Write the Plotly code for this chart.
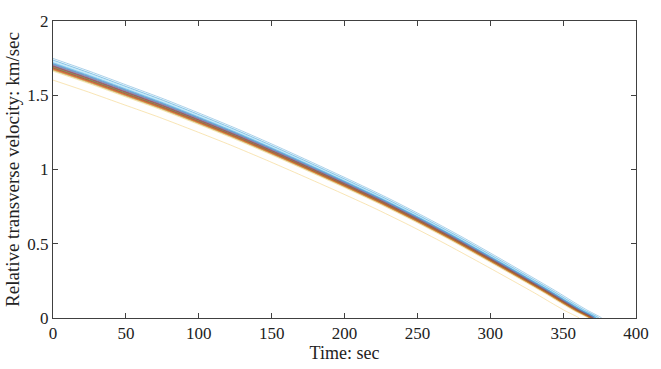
import plotly.graph_objects as go

# Nominal trajectory (time in sec, velocity in km/sec)
time_nominal = [0, 25, 50, 75, 100, 125, 150, 175, 200, 225, 250, 275, 300, 325, 340, 350, 360, 368, 370]
vel_nominal = [1.690, 1.605, 1.515, 1.425, 1.328, 1.228, 1.122, 1.012, 0.900, 0.785, 0.662, 0.532, 0.395, 0.255, 0.170, 0.110, 0.052, 0.012, 0.0]
nominal_v0 = 1.690
nominal_tf = 370.0

# Per-run initial velocity and zero-crossing time
run_v0 = [1.705, 1.688, 1.602, 1.676, 1.694, 1.738, 1.681,
          1.719, 1.671, 1.674, 1.699, 1.685, 1.722, 1.692,
          1.748, 1.679, 1.688, 1.710, 1.668, 1.712, 1.700,
          1.690, 1.695, 1.662, 1.683, 1.703, 1.716, 1.677,
          1.736, 1.682, 1.672, 1.707, 1.689, 1.729, 1.696,
          1.713, 1.674, 1.680, 1.698, 1.687, 1.704, 1.684]
run_tf = [371.5, 369.8, 361.0, 368.5, 370.5, 375.0, 369.0,
          373.0, 368.0, 368.5, 371.0, 369.5, 373.0, 370.0,
          376.5, 369.0, 370.0, 372.0, 368.0, 372.0, 371.0,
          370.0, 370.5, 367.0, 369.5, 371.5, 372.5, 369.0,
          374.5, 369.0, 368.5, 371.5, 370.0, 374.0, 370.5,
          372.5, 368.5, 369.0, 371.0, 369.5, 371.5, 369.5]

colors = ["#0072BD", "#D95319", "#EDB120", "#7E2F8E", "#77AC30", "#4DBEEE", "#A2142F"]

x_ticks = [0, 50, 100, 150, 200, 250, 300, 350, 400]
y_ticks = [0, 0.5, 1, 1.5, 2]
y_tick_labels = ["0", "0.5", "1", "1.5", "2"]

serif = "Liberation Serif, Times New Roman, serif"

fig = go.Figure()
for i, (v0, tf) in enumerate(zip(run_v0, run_tf)):
    xs = [t * tf / nominal_tf for t in time_nominal]
    ys = [v * v0 / nominal_v0 for v in vel_nominal]
    fig.add_trace(go.Scatter(
        x=xs, y=ys, mode="lines",
        line=dict(color=colors[i % len(colors)], width=0.6, shape="spline", smoothing=0.6),
        opacity=0.55, showlegend=False, hoverinfo="skip"))

axis_common = dict(
    showline=True, linecolor="#404040", linewidth=1, mirror="ticks",
    ticks="inside", ticklen=5, tickcolor="#404040", tickwidth=1,
    showgrid=False, zeroline=False,
    tickfont=dict(family=serif, size=17, color="#222"),
)

fig.update_layout(
    width=661, height=369,
    margin=dict(l=50, r=14, t=13, b=44),
    paper_bgcolor="white", plot_bgcolor="white",
    font=dict(family=serif, size=17, color="#222"),
    xaxis=dict(range=[0, 400], tickvals=x_ticks,
               title=dict(text="Time: sec", font=dict(family=serif, size=18), standoff=1),
               **axis_common),
    yaxis=dict(range=[0, 2], tickvals=y_ticks, ticktext=y_tick_labels,
               title=dict(text="Relative transverse velocity: km/sec", font=dict(family=serif, size=19), standoff=2),
               **axis_common),
)

fig.write_html("out.html")
